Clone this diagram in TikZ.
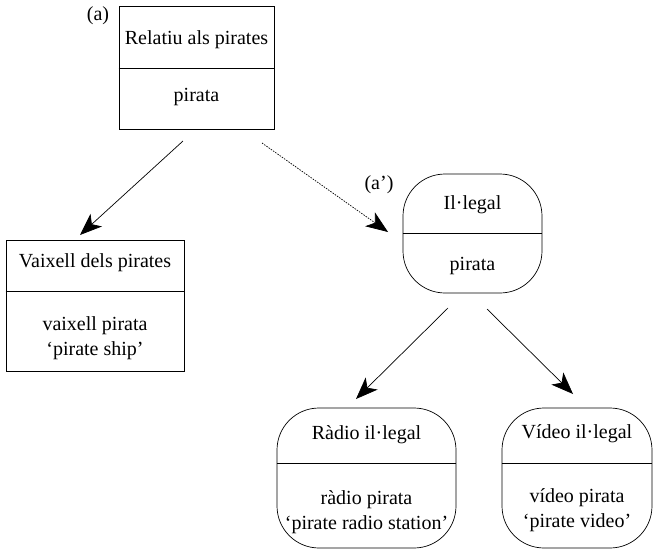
\documentclass[tikz,border=0pt]{standalone}
\usepackage{fontspec}
\setmainfont{Liberation Serif}
\usetikzlibrary{positioning}
\usetikzlibrary{arrows.meta}

\begin{document}
\begin{tikzpicture}[x=1pt,y=-1pt,font=\fontsize{20}{25}\selectfont]
    \tikzset{sqbox/.style= {draw, rectangle, line width=0.7pt, inner sep=0pt},
             rbox/.style= {draw, rectangle, rounded corners=42pt, line width=0.7pt, inner sep=0pt},
             txt/.style= {align=center, inner sep=0pt},
             conn/.style= {line width=0.7pt},
             arr/.style= {conn, -{Stealth[length=22pt,width=17pt,inset=6pt]}},}
    \useasboundingbox (0,0) rectangle (654,557);

    % boxes
    \node [sqbox, minimum width=155pt, minimum height=123pt] (rel) at (196.5,67.5) {};
    \node [sqbox, minimum width=178pt, minimum height=131pt] (vai) at (95,305.5) {};
    \node [rbox, minimum width=139pt, minimum height=119pt] (ill) at (472.5,233.5) {};
    \node [rbox, minimum width=179pt, minimum height=140pt] (rad) at (366.5,478) {};
    \node [rbox, minimum width=150pt, minimum height=140pt] (vid) at (577,478) {};

    % dividers
    \draw [conn] (rel.west |- 0,68) -- (rel.east |- 0,68);
    \draw [conn] (vai.west |- 0,291) -- (vai.east |- 0,291);
    \draw [conn] (ill.west |- 0,233) -- (ill.east |- 0,233);
    \draw [conn] (rad.west |- 0,463) -- (rad.east |- 0,463);
    \draw [conn] (vid.west |- 0,463) -- (vid.east |- 0,463);

    % texts
    \node [txt] (rel-t) at (196.5,40) {Relatiu als pirates};
    \node [txt] (rel-b) at (196.5,97) {pirata};
    \node [txt] (vai-t) at (95,263) {Vaixell dels pirates};
    \node [txt] (vai-b) at (95,338.5) {vaixell pirata\\‘pirate ship’};
    \node [txt] (ill-t) at (472.5,205) {Il·legal};
    \node [txt] (ill-b) at (472.5,266) {pirata};
    \node [txt] (rad-t) at (366.5,435) {Ràdio il·legal};
    \node [txt] (rad-b) at (366.5,512) {ràdio pirata\\‘pirate radio station’};
    \node [txt] (vid-t) at (577,434) {Vídeo il·legal};
    \node [txt] (vid-b) at (577,510) {vídeo pirata\\‘pirate video’};

    \node [txt] (lab-a) at (98,16) {(a)};
    \node [txt] (lab-a2) at (379,185) {(a’)};

    % connector ends
    \coordinate (rel-o1) at (183,141);
    \coordinate (vai-i) at (80,235);
    \coordinate (rel-o2) at (262,143);
    \coordinate (ill-i) at (388,232);
    \coordinate (ill-o1) at (448,308);
    \coordinate (rad-i) at (356,399);
    \coordinate (ill-o2) at (487,309);
    \coordinate (vid-i) at (573,394);

    \draw [arr] (rel-o1) -- (vai-i);
    \draw [arr] (ill-o1) -- (rad-i);
    \draw [arr] (ill-o2) -- (vid-i);
    \draw [arr,dash pattern=on 1.5pt off 1.2pt] (rel-o2) -- (ill-i);
\end{tikzpicture}
\end{document}
